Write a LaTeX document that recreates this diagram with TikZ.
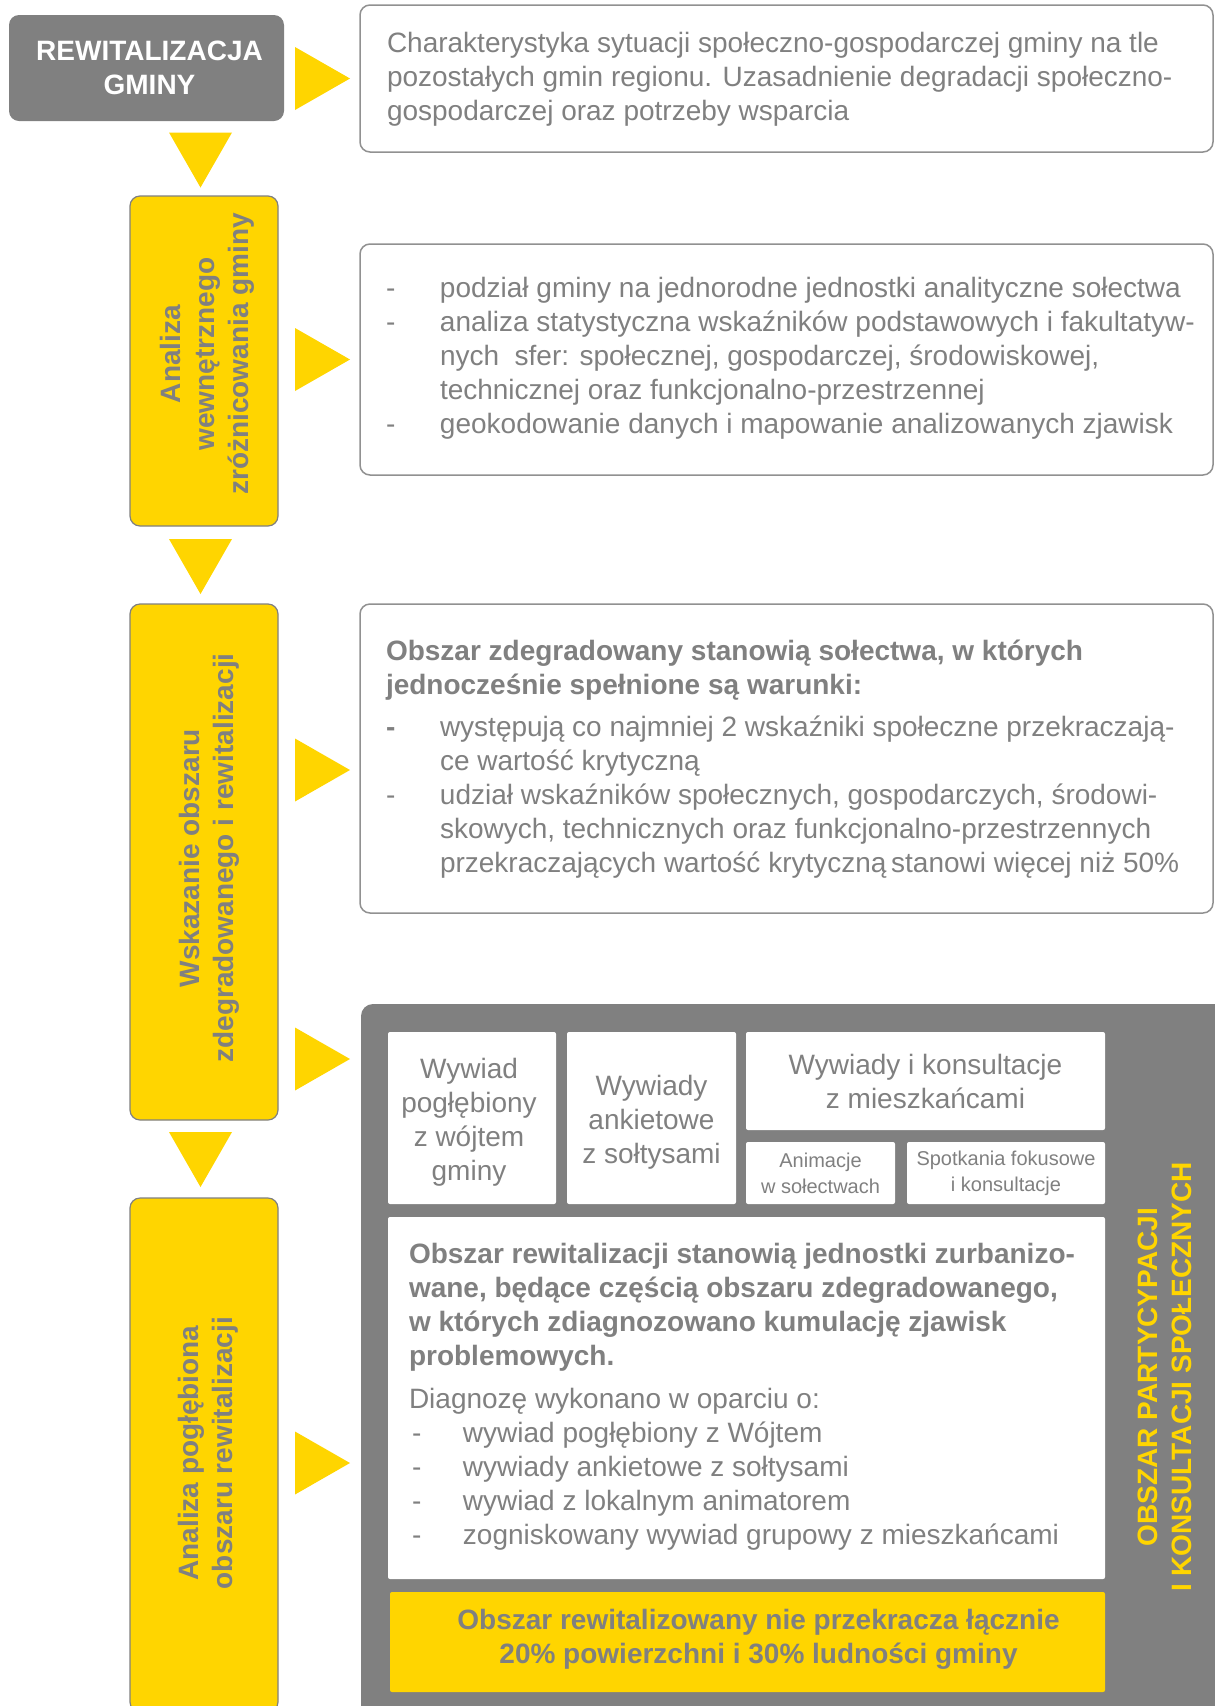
\documentclass[tikz,border=0pt]{standalone}
\usepackage{fontspec}
\setmainfont{Liberation Sans}
\usetikzlibrary{calc}
\definecolor{plangray}{RGB}{128,128,128}
\definecolor{planline}{RGB}{145,145,145}
\definecolor{planyellow}{RGB}{255,213,0}
\newcommand\bodyfont{\fontsize{28}{34}\selectfont}
\newcommand\cellfont{\fontsize{20}{26}\selectfont}
\newcommand\dashitem[1][51pt]{\makebox[#1][l]{-}}
\newcommand\dashskip[1][51pt]{\hspace*{#1}}
\newcommand\tipright[1]{\fill[tipfill] (#1) -- ++(-55,-31.5) -- ++(0,63) -- cycle;}
\newcommand\tipdown[1]{\fill[tipfill] (#1) -- ++(-31.5,-55) -- ++(63,0) -- cycle;}
\tikzset{
  plan/.style={x=1pt,y=-1pt,inner sep=0pt,outer sep=0pt},
  headbox/.style={fill=plangray,rounded corners=10pt,anchor=north west},
  headtext/.style={text=white,font=\bodyfont\bfseries,align=center},
  stagebox/.style={fill=planyellow,draw=plangray,line width=1.2pt,
    rounded corners=10pt,anchor=north west},
  stagelabel/.style={rotate=90,text=plangray,font=\bodyfont\bfseries,align=center},
  notebox/.style={draw=planline,line width=1.5pt,rounded corners=10pt,anchor=north west},
  notetext/.style={text=plangray,font=\bodyfont,align=left,anchor=west},
  panel/.style={fill=plangray,rounded corners=12pt,anchor=north west},
  cell/.style={fill=white,rounded corners=2pt,anchor=north west,text=plangray,
    font=\bodyfont,align=center},
  celltext/.style={text=plangray,font=\bodyfont,align=center},
  limitcell/.style={cell,fill=planyellow},
  limittext/.style={text=plangray,font=\bodyfont\bfseries,align=center},
  panellabel/.style={rotate=90,text=planyellow,font=\bodyfont\bfseries,align=center},
  tipfill/.style={fill=planyellow}
}
\begin{document}
\begin{tikzpicture}[plan]
\useasboundingbox (0,0) rectangle (1215,1706);
\clip (0,0) rectangle (1215,1706);
\fill[white] (0,0) rectangle (1215,1706);

\node[headbox,minimum width=275,minimum height=106] (gmina) at (9,15) {};
\node[headtext] (gminatext) at ($(gmina.center)+(3,0)$) {REWITALIZACJA\\GMINY};

\node[stagebox,minimum width=148,minimum height=330] (analiza) at (130,196) {};
\node[stagelabel] (analizalabel) at ($(analiza.center)+(3,-7)$) {Analiza\\wewnętrznego\\zróżnicowania gminy};
\node[stagebox,minimum width=148,minimum height=516] (wskazanie) at (130,604) {};
\node[stagelabel] (wskazanielabel) at ($(wskazanie.center)+(5,-4)$) {Wskazanie obszaru\\zdegradowanego i rewitalizacji};
\node[stagebox,minimum width=148,minimum height=514] (poglebiona) at (130,1198) {};
\node[stagelabel] (poglebionalabel) at ($(poglebiona.center)+(4,-2)$) {Analiza pogłębiona\\obszaru rewitalizacji};

\node[notebox,minimum width=853,minimum height=147] (tlo) at (360,5) {};
\node[notetext] (tlotext) at ($(tlo.west)+(27,1)$) {Charakterystyka sytuacji społeczno-gospodarczej gminy na tle\\
pozostałych gmin regionu. Uzasadnienie degradacji społeczno-\\
gospodarczej oraz potrzeby wsparcia};

\node[notebox,minimum width=853,minimum height=231] (podzial) at (360,244) {};
\node[notetext] (podzialtext) at ($(podzial.west)+(26,-1.5)$) {\dashitem[54pt]podział gminy na jednorodne jednostki analityczne sołectwa\\
\dashitem[54pt]analiza statystyczna wskaźników podstawowych i fakultatyw-\\
\dashskip[54pt]nych~ sfer: społecznej, gospodarczej, środowiskowej,\\
\dashskip[54pt]technicznej oraz funkcjonalno-przestrzennej\\
\dashitem[54pt]geokodowanie danych i mapowanie analizowanych zjawisk};

\node[notebox,minimum width=853,minimum height=309] (warunki) at (360,604) {};
\node[notetext] (warunkitext) at ($(warunki.west)+(26,0.5)$) {\textbf{Obszar zdegradowany stanowią sołectwa, w których}\\
\textbf{jednocześnie spełnione są warunki:}\\[8pt]
\textbf{\dashitem[54pt]}występują co najmniej 2 wskaźniki społeczne przekraczają-\\
\dashskip[54pt]ce wartość krytyczną\\
\dashitem[54pt]udział wskaźników społecznych, gospodarczych, środowi-\\
\dashskip[54pt]skowych, technicznych oraz funkcjonalno-przestrzennych\\
\dashskip[54pt]przekraczających wartość krytyczną\,stanowi więcej niż 50\%};

\node[panel,minimum width=900,minimum height=800] (konsultacje) at (361,1004) {};
\node[cell,minimum width=168,minimum height=172] (wojt) at (388,1032) {};
\node[celltext] (wojttext) at ($(wojt.center)+(-3,4)$) {Wywiad\\pogłębiony\\z wójtem\\gminy};
\node[cell,minimum width=169,minimum height=172] (soltysi) at (567,1032) {};
\node[celltext] (soltysitext) at ($(soltysi.center)+(0,4)$) {Wywiady\\ankietowe\\z sołtysami};
\node[cell,minimum width=359,minimum height=98] (mieszkancy) at (746,1032) {Wywiady i konsultacje\\z mieszkańcami};
\node[cell,font=\cellfont,minimum width=149,minimum height=62] (animacje) at (746,1142) {Animacje\\w sołectwach};
\node[cell,font=\cellfont,minimum width=198,minimum height=62] (spotkania) at (907,1142) {Spotkania fokusowe\\i konsultacje};
\node[cell,minimum width=717,minimum height=362] (diagnoza) at (388,1217) {};
\node[notetext] (diagnozatext) at ($(diagnoza.west)+(21,-1)$) {\textbf{Obszar rewitalizacji stanowią jednostki zurbanizo-}\\
\textbf{wane, będące częścią obszaru zdegradowanego,}\\
\textbf{w których zdiagnozowano kumulację zjawisk}\\
\textbf{problemowych.}\\[9pt]
Diagnozę wykonano w oparciu o:\\
\dashskip[3pt]\dashitem[51pt]wywiad pogłębiony z Wójtem\\
\dashskip[3pt]\dashitem[51pt]wywiady ankietowe z sołtysami\\
\dashskip[3pt]\dashitem[51pt]wywiad z lokalnym animatorem\\
\dashskip[3pt]\dashitem[51pt]zogniskowany wywiad grupowy z mieszkańcami};
\node[limitcell,minimum width=715,minimum height=100] (limit) at (390,1592) {};
\node[limittext] (limittext) at ($(limit.center)+(11,-3)$) {Obszar rewitalizowany nie przekracza łącznie\\20\% powierzchni i 30\% ludności gminy};
\node[panellabel] (konsultacjelabel) at (1165,1377) {OBSZAR PARTYCYPACJI\\I KONSULTACJI SPOŁECZNYCH};

\tipright{$(tlo.west)+(-10,0)$}
\tipright{$(podzial.west)+(-10,0)$}
\tipright{$(warunki.west)+(-10,11.5)$}
\tipright{$(konsultacje.north west)+(-11,55)$}
\tipright{$(konsultacje.north west)+(-11,459)$}
\tipdown{$(analiza.north)+(-3.5,-8.5)$}
\tipdown{$(wskazanie.north)+(-3.5,-10)$}
\tipdown{$(poglebiona.north)+(-3.5,-11)$}
\end{tikzpicture}
\end{document}
